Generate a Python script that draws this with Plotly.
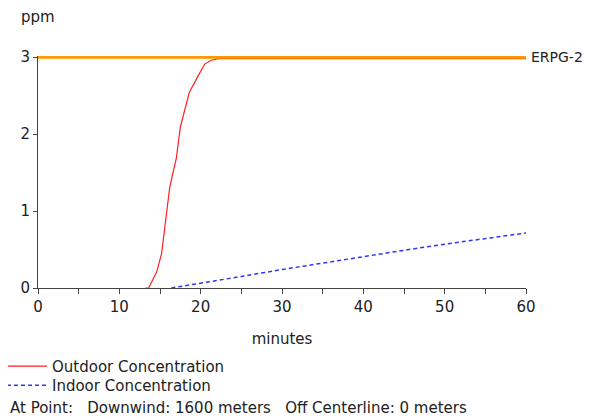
import plotly.graph_objects as go

# Outdoor concentration (ppm) vs time (minutes)
outdoor_t = [13.2, 13.6, 14.6, 15.2, 15.7, 16.2, 16.6, 17.0, 17.5, 17.9, 18.6, 19.7, 20.5, 21.3, 22.2, 30, 40, 50, 60]
outdoor_v = [0.0, 0.0, 0.21, 0.45, 0.88, 1.31, 1.50, 1.68, 2.09, 2.26, 2.54, 2.76, 2.91, 2.96, 2.98, 2.98, 2.98, 2.98, 2.98]

# Indoor concentration (ppm) vs time (minutes)
indoor_t = [16.4, 20, 25, 30, 33.5, 35, 40, 45, 50, 55, 60]
indoor_v = [0.0, 0.06, 0.15, 0.24, 0.30, 0.32, 0.41, 0.49, 0.57, 0.645, 0.715]

erpg2 = 3.0
erpg_label = "ERPG-2"
x_range = [0, 60]
y_range = [0, 3.015]

FONT = "DejaVu Sans"
TXT = "#222222"
FS = 15

fig = go.Figure()
fig.add_trace(go.Scatter(x=outdoor_t, y=outdoor_v, mode="lines",
                         name="Outdoor Concentration", legend="legend",
                         line=dict(color="#ff2020", width=1.2)))
fig.add_trace(go.Scatter(x=indoor_t, y=indoor_v, mode="lines",
                         name="Indoor Concentration", legend="legend2",
                         line=dict(color="#3333ff", width=1.5, dash="4px,3px")))
fig.add_trace(go.Scatter(x=x_range, y=[erpg2, erpg2], mode="lines",
                         showlegend=False,
                         line=dict(color="#ff9900", width=3)))

fig.add_annotation(x=x_range[1], y=erpg2, xref="x", yref="y", text=erpg_label,
                   showarrow=False, xanchor="left", xshift=3,
                   font=dict(family=FONT, size=14, color=TXT))
fig.add_annotation(x=0.0, y=1.0, xref="paper", yref="paper", yshift=39,
                   text="ppm", showarrow=False, xanchor="center", yanchor="middle",
                   font=dict(family=FONT, size=FS, color=TXT))
fig.add_annotation(x=-0.0615, y=0, xref="paper", yref="paper", yshift=-120,
                   text="At Point:   Downwind: 1600 meters   Off Centerline: 0 meters",
                   showarrow=False, xanchor="left", yanchor="middle",
                   font=dict(family=FONT, size=FS, color=TXT))

leg_common = dict(xanchor="left", yanchor="top", bgcolor="rgba(0,0,0,0)",
                  font=dict(family=FONT, size=FS, color=TXT),
                  tracegroupgap=0, itemwidth=40)

fig.update_layout(
    width=584, height=411,
    margin=dict(l=30, r=66, t=48, b=131, autoexpand=False),
    paper_bgcolor="white", plot_bgcolor="white",
    font=dict(family=FONT, size=FS, color=TXT),
    showlegend=True,
    legend=dict(x=-0.0738, y=-0.267, **leg_common),
    legend2=dict(x=-0.0738, y=-0.349, **leg_common),
)
fig.update_xaxes(range=x_range, dtick=10, ticks="outside", ticklen=5,
                 showline=True, linecolor="#444", linewidth=1, tickcolor="#444",
                 showgrid=False, zeroline=False,
                 minor=dict(dtick=5, ticks="outside", ticklen=5, tickcolor="#444"),
                 title=dict(text="minutes", standoff=18,
                            font=dict(family=FONT, size=FS, color=TXT)),
                 tickfont=dict(family=FONT, size=FS, color=TXT))
fig.update_yaxes(range=y_range, tickvals=[0, 1, 2, 3], ticks="outside", ticklen=4,
                 showline=True, linecolor="#444", linewidth=1, tickcolor="#444",
                 showgrid=False, zeroline=False,
                 tickfont=dict(family=FONT, size=FS, color=TXT))

fig.write_html("out.html")
